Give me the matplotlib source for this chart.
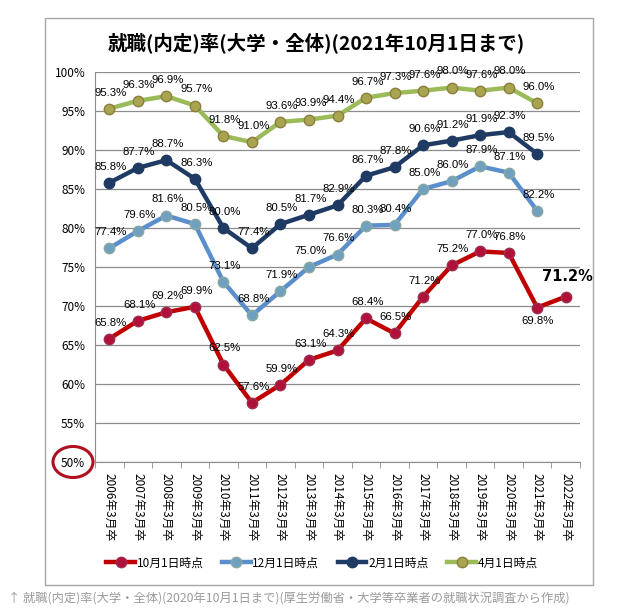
"""就職(内定)率 (大学・全体) line chart, four survey dates per graduation year."""

import matplotlib

matplotlib.use("Agg")
import matplotlib.pyplot as plt
from matplotlib.patches import Ellipse, Rectangle

plt.rcParams["font.family"] = ["Noto Sans CJK JP", "DejaVu Sans"]

YEARS = [f"{y}年3月卒" for y in range(2006, 2023)]

# survey values (%), one per graduating class; None = not yet published
OCT1 = [65.8, 68.1, 69.2, 69.9, 62.5, 57.6, 59.9, 63.1, 64.3, 68.4,
        66.5, 71.2, 75.2, 77.0, 76.8, 69.8, 71.2]
DEC1 = [77.4, 79.6, 81.6, 80.5, 73.1, 68.8, 71.9, 75.0, 76.6, 80.3,
        80.4, 85.0, 86.0, 87.9, 87.1, 82.2, None]
FEB1 = [85.8, 87.7, 88.7, 86.3, 80.0, 77.4, 80.5, 81.7, 82.9, 86.7,
        87.8, 90.6, 91.2, 91.9, 92.3, 89.5, None]
APR1 = [95.3, 96.3, 96.9, 95.7, 91.8, 91.0, 93.6, 93.9, 94.4, 96.7,
        97.3, 97.6, 98.0, 97.6, 98.0, 96.0, None]

SERIES = [
    ("10月1日時点", OCT1, "#C00000", "#B0103A", "#9C3050"),
    ("12月1日時点", DEC1, "#5B8FCB", "#6FA0C0", "#8AA8A0"),
    ("2月1日時点", FEB1, "#1F3B63", "#1F3B63", "#1F3B63"),
    ("4月1日時点", APR1, "#9BBB59", "#A8A450", "#8C7E3C"),
]

W, H = 636, 612
fig = plt.figure(figsize=(W / 100, H / 100), dpi=100)

# outer chart frame
fig.patches.append(Rectangle((45 / W, 1 - 585 / H), 548 / W, 567 / H,
                             transform=fig.transFigure, fill=False,
                             edgecolor="#A6A6A6", linewidth=1.0))

ax = fig.add_axes([95 / W, 1 - 462 / H, 485 / W, 390 / H])
x = list(range(len(YEARS)))

handles = []
for name, vals, lc, mfc, mec in SERIES:
    xs = [i for i, v in zip(x, vals) if v is not None]
    ys = [v for v in vals if v is not None]
    (h,) = ax.plot(xs, ys, color=lc, linewidth=3.2, marker="o",
                   markersize=7.5, markerfacecolor=mfc, markeredgecolor=mec,
                   markeredgewidth=1.0, label=name, zorder=3)
    handles.append(h)
    for i, v in zip(xs, ys):
        if vals is OCT1 and i == len(YEARS) - 1:
            ax.annotate(f"{v:.1f}%", (i, v), xytext=(1, 9),
                        textcoords="offset points", ha="center", va="bottom",
                        fontsize=10.5, fontweight="bold", family="DejaVu Sans")
        elif vals is OCT1 and i == len(YEARS) - 2:
            ax.annotate(f"{v:.1f}%", (i, v), xytext=(0, -6),
                        textcoords="offset points", ha="center", va="top",
                        fontsize=8.2, family="Liberation Sans")
        else:
            ax.annotate(f"{v:.1f}%", (i, v), xytext=(1, 8),
                        textcoords="offset points", ha="center", va="bottom",
                        fontsize=8.2, family="Liberation Sans")

ax.set_xlim(-0.5, len(YEARS) - 0.5)
ax.set_ylim(50, 100)
ax.set_yticks(range(50, 101, 5))
ax.set_yticklabels([f"{v}%" for v in range(50, 101, 5)], fontsize=8.5)
ax.yaxis.grid(True, color="#8C8C8C", linewidth=0.9)
ax.set_axisbelow(True)
ax.tick_params(axis="y", length=0, pad=7)

ax.set_xticks(x)
ax.set_xticklabels(YEARS, rotation=-90, fontsize=8.5, va="top")
ax.set_xticks([i - 0.5 for i in range(len(YEARS) + 1)], minor=True)
ax.tick_params(axis="x", which="major", length=0, pad=8)
ax.tick_params(axis="x", which="minor", length=4, color="#8C8C8C")

for side in ("top", "right"):
    ax.spines[side].set_visible(False)
for side in ("left", "bottom"):
    ax.spines[side].set_color("#8C8C8C")

# red circle around the 50% tick label
fig.patches.append(Ellipse((73 / W, 1 - 462 / H), 40 / W, 31 / H,
                           transform=fig.transFigure, fill=False,
                           edgecolor="#B01020", linewidth=2.2))

fig.text(316 / W, 1 - 43 / H, "就職(内定)率(大学・全体)(2021年10月1日まで)",
         ha="center", va="center", fontsize=14, fontweight="bold")

fig.legend(handles=handles, loc="center", bbox_to_anchor=(322 / W, 1 - 563 / H),
           ncol=4, frameon=False, fontsize=8.5, handlelength=2.4,
           handletextpad=0.15, columnspacing=1.6)

fig.text(8 / W, 1 - 598 / H,
         "↑ 就職(内定)率(大学・全体)(2020年10月1日まで)(厚生労働省・大学等卒業者の就職状況調査から作成)",
         ha="left", va="center", fontsize=8.8, color="#9A9A9A")

fig.savefig("out.png", dpi=100)
